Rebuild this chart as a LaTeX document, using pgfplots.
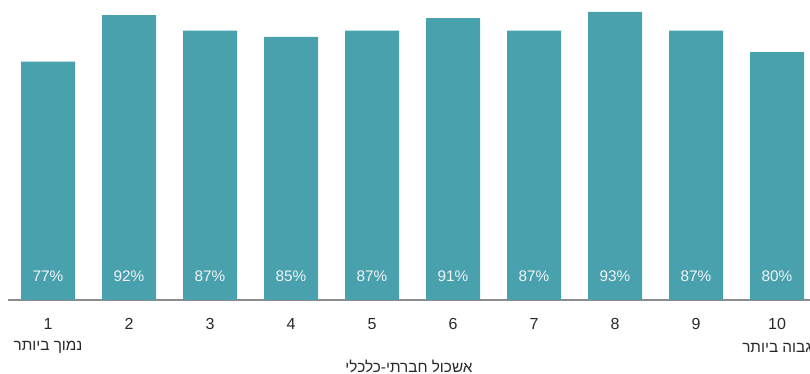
\documentclass[border=0pt]{standalone}
\usepackage{pgfplots}
\pgfplotsset{compat=1.18}
\usepackage{pgfplotstable}
\usepackage{fontspec}
\setmainfont{Liberation Sans}
\newfontfamily\hebfont[Script=Hebrew]{Liberation Sans}
\TeXXeTstate=1

\definecolor{barteal}{RGB}{74,161,174}
\definecolor{axisgray}{RGB}{140,140,140}
\definecolor{labeltext}{RGB}{40,40,40}
\definecolor{valtext}{RGB}{240,244,245}

% share of each socio-economic cluster (percent)
\pgfplotstableread{
x y
1 77
2 92
3 87
4 85
5 87
6 91
7 87
8 93
9 87
10 80
}\clusterdata

\begin{document}
\begin{tikzpicture}[x=0.75pt,y=0.75pt]
\begin{axis}[
  scale only axis,
  width=601.5pt, height=225pt,
  xmin=0.506, xmax=10.407,
  ymin=0, ymax=96.87,
  axis y line=none,
  axis x line*=bottom,
  x axis line style={draw=axisgray, line width=0.8pt, -},
  xtick={1,...,10},
  major tick length=0pt,
  xticklabel style={font=\fontsize{12}{14}\selectfont, text=labeltext, yshift=-10pt},
  /pgf/number format/assume math mode=true,
  clip=false,
]
\addplot[ybar, bar width=40.5pt, fill=barteal, draw=none] table[x=x, y=y] {\clusterdata};
\addplot[only marks, mark=none,
  nodes near coords={\pgfmathprintnumber[fixed,precision=0]{\pgfplotspointmeta}\%},
  point meta=\thisrow{y},
  every node near coord/.style={anchor=center, font=\fontsize{11.5}{13}\selectfont, text=valtext},
] table[x=x, y expr=7.75] {\clusterdata};

\node[font=\hebfont\fontsize{11.5}{13}\selectfont, text=labeltext, anchor=center]
  at ([yshift=-35.75pt]axis cs:1,0) {\beginR נמוך ביותר\endR};
\node[font=\hebfont\fontsize{11.5}{13}\selectfont, text=labeltext, anchor=center]
  at ([yshift=-35.75pt]axis cs:10,0) {\beginR גבוה ביותר\endR};
\node[font=\hebfont\fontsize{11.5}{13}\selectfont, text=labeltext, anchor=center]
  at ([yshift=-49.5pt]axis cs:5.4565,0) {\beginR אשכול חברתי-כלכלי\endR};
\end{axis}
\pgfresetboundingbox
\path[use as bounding box] (-6pt,-55.5pt) rectangle (601.5pt,225pt);
\end{tikzpicture}
\end{document}
